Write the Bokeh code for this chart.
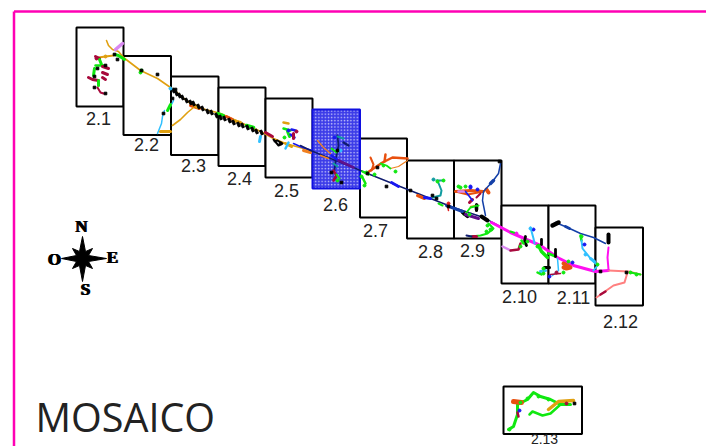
from bokeh.plotting import figure
from bokeh.models import Range1d
from bokeh.embed import file_html
from bokeh.resources import INLINE
from bokeh.core.properties import value

sheet_names = ["2.1","2.2","2.3","2.4","2.5","2.6","2.7","2.8","2.9","2.10","2.11","2.12","2.13"]
sheet_left = [76,123,170.5,218,265,312,359.5,406.5,453.5,501,548,595,503]
sheet_right = [123,170.5,218,265,312,359.5,406.5,453.5,501,548,595,642.5,581.5]
sheet_top = [27,55.5,76,87,98,109,138,160,160,205,205,227,386]
sheet_bottom = [106,134.5,154.5,165.5,177,188,217,238,238,283,283,305,433.5]
label_x = [98,146,193,239,286,335,375,430,472,519,573,620,544]
label_y = [118,144,165,178,190,204,230,251,250,296,297,321,438]
label_size = ["18px"]*12 + ["14px"]

GOLD="#E0A010"; LIME="#10E810"; CRIM="#A80A3C"; BLK="#000000"; MAG="#FF10F0"; SALM="#FF8080"
ORNG="#E8500F"; NAVY="#1440A8"; CYAN="#30C0FF"; VIOL="#D888F0"; TEAL="#109CA0"; RED="#E02020"
ORL="#F08020"; BLUE="#1818F0"; DPUR="#60108C"; DKB="#101C70"

tracks = [
 # 2.1 / 2.2 north arm
 (GOLD,1.6,[106,108,112,118,123,140,157,170],[40,45,49,51,57,70,78,87]),
 (VIOL,3.5,[115,122],[49,43]),
 (LIME,3,[114,118,124],[54,55,59]),
 (GOLD,2,[98,105,113],[57,56,55]),
 (CRIM,3,[95,99],[56,58]),
 (LIME,3,[99,101],[59,64]),
 (LIME,2.5,[95,105],[65,65]),
 (LIME,3,[94,93],[68,75]),
 (CRIM,3,[102,108],[66,68]),
 (CRIM,3,[102,107],[72,74]),
 (CRIM,3,[88,92,98],[77,79,80]),
 (CRIM,3,[102,105],[77,79]),
 (LIME,3,[98,98],[80,85]),
 (CRIM,2,[97,100,103],[87,92,93]),
 # main line, west
 (GOLD,1.8,[172,182,193,205,220,240,260,273,285,310],[88,97,105,109,113,122,131,138,143,150]),
 (ORNG,3,[190,199],[105,108]),
 (GOLD,3,[192,197],[103,107]),
 (LIME,3,[217,223],[113,115]),
 (ORNG,3,[226,232],[116,119]),
 (GOLD,3,[233,240],[120,122]),
 (LIME,3.5,[246,253],[125,127]),
 (CRIM,3,[265,272],[132,136]),
 (GOLD,3,[285,291],[143,146]),
 (CYAN,1.5,[173,170],[100,106]),
 (LIME,3,[170,167],[104,110]),
 (CYAN,1.5,[164,162,161,157],[110,116,123,133]),
 (GOLD,3,[160,170],[131,131]),
 (GOLD,1.6,[172,180,187,193],[125,119,112,107]),
 (CYAN,3,[260,259],[136,141]),
 (CYAN,2.5,[288,285],[142,148]),
 # 2.5 cluster
 (GOLD,2.5,[283,288],[122,123]),
 (LIME,2.5,[283,290],[128,130]),
 (LIME,3,[287,289],[131,136]),
 (BLUE,2.5,[291,295],[129,130]),
 (BLUE,2.5,[290,294],[134,137]),
 (CRIM,3,[293,293],[133,138]),
 (BLK,2,[273,278,282,277,274],[139,145,143,140,141]),
 (BLUE,1.5,[293,302,312],[143,147,150]),
 (ORL,3,[303,310],[150,152]),
 # 2.6 cluster (over hatch)
 (DKB,1.4,[300,310,335,353,367,397,430,453,483,500],[145,150,160,167,173,185,198,207,217,226]),
 (ORL,1.2,[317,323,330],[140,147,153]),
 (ORL,1.5,[320,328],[155,158]),
 (DKB,1.8,[337,338,335,334],[135,145,160,170]),
 (DKB,2.2,[343,348],[142,145]),
 (TEAL,2,[337,343],[136,138]),
 (LIME,2,[331,336],[148,152]),
 (BLUE,2.5,[331,338],[155,160]),
 (TEAL,2,[333,337],[163,166]),
 (CRIM,2.5,[333,336,333],[170,175,180]),
 (LIME,2,[336,339],[174,178]),
 (DPUR,2.5,[338,353],[160,167]),
 # 2.7
 (ORNG,2.5,[367,382,392,407],[172,162,157,158]),
 (ORNG,2.5,[384,385],[161,154]),
 (ORNG,2,[370,373,371],[157,164,170]),
 (ORL,1.2,[390,398,407],[168,166,160]),
 (LIME,1.8,[380,386,390],[163,165,168]),
 (LIME,2.5,[362,365],[177,183]),
 (LIME,2.5,[362,368],[171,174]),
 (BLUE,2.8,[391,398],[182,186]),
 # 2.8
 (TEAL,2,[436,443],[180,180]),
 (TEAL,2,[437,441,440,432],[180,190,195,197]),
 (ORNG,3,[417,424],[195,198]),
 (BLUE,3,[424,430],[197,198]),
 (RED,1.5,[447,448],[205,210]),
 (LIME,2,[438,442],[203,205]),
 # 2.9
 (ORNG,3,[455,470,483],[191,190,191]),
 (ORNG,2,[455,467,483],[191,194,191]),
 (ORNG,4,[486,488],[189,192]),
 (NAVY,1.5,[500,498,492,483,482,485],[163,173,181,191,200,215]),
 (NAVY,3.5,[490,493],[183,180]),
 (CRIM,3,[469,472],[202,199]),
 (BLUE,1.8,[465,469,472],[191,196,200]),
 (CRIM,2,[476,480],[197,193]),
 (GOLD,1.5,[470,476],[206,205]),
 (LIME,2,[466,470,478],[212,207,205]),
 (LIME,2,[463,466],[214,215]),
 (BLK,3.5,[462,467],[212,216]),
 (BLK,3,[476,476],[204,210]),
 (BLK,4,[481,487],[216,220]),
 (DPUR,3,[465,478],[214,218]),
 (VIOL,2.5,[458,463],[191,191]),
 (NAVY,3,[446,462],[205,211]),
 (LIME,2,[488,493,487,480,470],[223,228,233,235,236]),
 (CRIM,3,[472,476],[236,236]),
 (DKB,2,[466,471],[235,236]),
 # magenta main + 2.12
 (MAG,3,[491,510,540,557,573,595,608],[222,232,245,257,265,271,270]),
 (SALM,2,[608,628,640],[270,271,274]),
 (SALM,2,[627,624,613,603,596],[272,282,285,292,297]),
 (MAG,2,[608,607,608],[247,257,269]),
 (BLK,4,[608,608],[234,242]),
 (CRIM,2.5,[600,605],[294,291]),
 (LIME,2,[630,640],[272,274]),
 # 2.11 north
 (NAVY,1.5,[555,567,580,593,605],[222,227,233,237,243]),
 (BLK,4.5,[552,558],[225,222]),
 (NAVY,3,[565,569],[226,228]),
 (LIME,2.5,[580,581],[235,240]),
 (CYAN,2,[581,582,590,597,593],[240,248,258,265,270]),
 (CYAN,3,[590,594],[258,261]),
 # 2.10
 (CYAN,2,[530,533,534],[227,238,243]),
 (LIME,3.5,[538,541,547],[245,251,257]),
 (LIME,2.5,[548,555],[253,256]),
 (BLK,2.8,[555,555],[249,256]),
 (BLK,2.8,[525,524,526],[236,241,245]),
 (BLK,2.8,[541,541],[239,244]),
 (CYAN,1.5,[557,558,552],[258,270,275]),
 (BLK,3,[544,549],[267,267]),
 (CYAN,3,[540,545],[271,270]),
 (LIME,2.5,[537,541],[272,274]),
 (CRIM,1.5,[550,560],[274,273]),
 (ORNG,4,[563,570,566,563],[263,267,268,267]),
 (VIOL,2.5,[502,510],[246,250]),
 (CRIM,2.5,[510,518,520],[250,249,243]),
 (LIME,2.5,[521,523],[240,243]),
 (LIME,2,[510,516],[231,233]),
 # 2.13
 (LIME,3,[508,513,517,517,527,533,540,550,560],[429,426,414,404,399,392,396,399,404]),
 (LIME,2.5,[560,550,542,532,529],[404,413,415,411,414]),
 (GOLD,3.5,[548,558,573],[409,401,400]),
 (ORNG,5,[513,521],[401,402]),
 (LIME,3,[560,570],[404,404]),
 (CRIM,2.5,[517,518],[412,416]),
]
track_colors = [t[0] for t in tracks]
track_widths = [t[1] for t in tracks]
track_x = [t[2] for t in tracks]
track_y = [t[3] for t in tracks]

tick_x = [173,176,179,182,186,190,193,198,202,207,211,216,220,224,229,233,238,242,247,252,256,261]
tick_y = [90,93,95,97,100,102,103,106,108,111,112,115,117,118,120,122,124,125,127,129,131,132]

dot_x = [114,97,105,94,163,172,175,280,337,331,341,367,377,386,432,436,448,410,
         476,499,600,626,574,117,94,105,141,157]
dot_y = [54,68,93,76,113,98,89,143,150,172,182,173,167,186,195,198,206,190,
         208,161,271,272,403,59,87,65,70,74]
dot_c = [BLK]*len(dot_x)

bead_x = [141,140,170,105,96,520,527,533,543,556,568,
          383,395,437,443,460,470,477,487,490,
          516,537,530,597,585,572,
          509,519,538,548,566,520,527,
          366,374,361,364,433,448,
          458,465,470,486,491,469,476,
          288,284,296,
          334,337,340,543,549,563,581,584,
          630,636]
bead_y = [70,72,88,56,58,246,241,229,273,272,261,
          165,171,181,180,187,186,189,225,229,
          233,246,228,264,254,262,
          429,410,396,399,403,402,398,
          172,174,176,185,179,203,
          186,186,187,231,229,214,206,
          130,137,131,
          137,180,150,268,276,272,236,244,
          272,274]
bead_c = [LIME,LIME,CYAN,GOLD,CRIM,LIME,LIME,BLUE,LIME,CRIM,LIME,
          LIME,LIME,LIME,LIME,LIME,BLUE,BLUE,LIME,LIME,
          MAG,LIME,CYAN,LIME,CYAN,BLUE,
          LIME,BLUE,LIME,LIME,CRIM,LIME,LIME,
          LIME,LIME,LIME,LIME,TEAL,RED,
          LIME,LIME,BLUE,LIME,LIME,LIME,LIME,
          BLUE,LIME,CRIM,
          BLUE,LIME,CYAN,LIME,BLUE,LIME,LIME,BLUE,
          LIME,LIME]

star_x = [82,85,92,88,106,88,92,85,82,79,72,76,61,76,72,79]
star_y = [236,251,248,255,258,261,268,265,281,265,268,261,258,255,248,251]
compass_letters = ["N","E","S","O"]
compass_x = [81,112,85,54]
compass_y = [226,257,289,259]
title_text = "MOSAICO"

p = figure(width=706, height=446, output_backend="svg", toolbar_location=None,
           x_range=Range1d(0,706), y_range=Range1d(446,0), min_border=0,
           outline_line_color=None, background_fill_color="white", border_fill_color="white")
p.xaxis.visible = False
p.yaxis.visible = False
p.grid.visible = False

p.line([13.5,13.5],[446,11],line_color="#FF00B4",line_width=2.5)
p.line([13.5,706],[11,11],line_color="#FF00B4",line_width=2.5)

for i in range(13):
    if sheet_names[i]=="2.6":
        continue
    p.quad(left=[sheet_left[i]],right=[sheet_right[i]],top=[sheet_top[i]],bottom=[sheet_bottom[i]],
           fill_color="white",line_color="black",line_width=2)
i = sheet_names.index("2.6")
p.quad(left=[sheet_left[i]],right=[sheet_right[i]],top=[sheet_top[i]],bottom=[sheet_bottom[i]],
       fill_color="#3C3CE8",line_color="#1010E0",line_width=2,
       hatch_pattern="dot",hatch_color="#C4C4FA",hatch_scale=3.2,hatch_weight=1)

p.multi_line(xs=track_x,ys=track_y,line_color=track_colors,line_width=track_widths,line_cap="round",line_join="round")
p.rect(tick_x,tick_y,width=2.2,height=4.6,width_units="screen",height_units="screen",angle=0.4,color="black")
p.scatter(bead_x,bead_y,size=3,color=bead_c)
p.scatter(dot_x,dot_y,size=2.6,marker="square",color=dot_c)

p.patch(star_x,star_y,fill_color="black",line_color="black",line_width=1)
for dx in (-0.7,0,0.7):
    p.text(compass_x,compass_y,text=compass_letters,x_offset=dx,text_font=value("Liberation Serif"),text_font_style="bold",
           text_font_size="17px",text_align="center",text_baseline="middle",text_color="black")

for name,lx,ly,ls in zip(sheet_names,label_x,label_y,label_size):
    p.text([lx],[ly],text=[name],text_font=value("Liberation Sans"),text_font_size=ls,
           text_align="center",text_baseline="middle",text_color="#222222")
p.text([35],[416],text=[title_text],text_font=value("Open Sans"),text_font_size="39.5px",
       text_align="left",text_baseline="middle",text_color="#222222")

open("out.html","w").write(file_html(p,INLINE))
